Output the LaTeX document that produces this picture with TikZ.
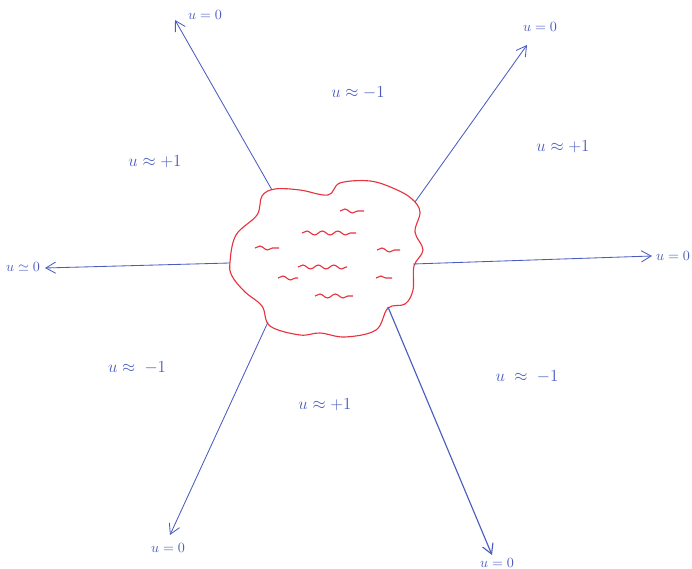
\documentclass[tikz,border=0pt]{standalone}
\usepackage{amsmath}
\usepackage{amssymb}
\definecolor{rayblue}{HTML}{4A5CC0}
\definecolor{blobred}{HTML}{E8323F}
\usetikzlibrary{positioning,arrows.meta,decorations.pathmorphing}

\begin{document}
\begin{tikzpicture}[
  x=0.025cm, y=-0.025cm,
  ray/.style={-{Straight Barb[length=7pt,width=8pt]}, rayblue, semithick},
  blob/.style={draw=blobred, thick},
  wave/.style={blobred, thick, decorate,
               decoration={snake, amplitude=1.4pt, segment length=11pt}},
  endlabel/.style={rayblue, font=\normalsize},
  region/.style={rayblue, font=\large}
]
  \useasboundingbox (0,0) rectangle (692,569);

  % the blob
  \draw[blob] plot[smooth cycle, tension=0.6] coordinates {
    (230,262) (236,235) (257,215) (262,196) (275,189) (300,190) (328,195)
    (340,183) (370,181) (395,189) (412,199) (420,212) (415,232) (423,250)
    (414,266) (413,290) (405,304) (388,308) (376,330) (345,337) (320,333)
    (300,335) (270,326) (262,306) (245,292) (232,276)};

  % ripples inside
  \draw[wave] (340,211) -- (364,211);
  \draw[wave] (302,233) -- (356,233);
  \draw[wave] (255,248) -- (279,248);
  \draw[wave] (377,250) -- (400,250);
  \draw[wave] (298,267) -- (347,267);
  \draw[wave] (278,278) -- (298,278);
  \draw[wave] (376,278) -- (392,278);
  \draw[wave] (315,296) -- (353,296);

  % attachment points on the blob
  \coordinate (nw) at (272,190);
  \coordinate (ne) at (415,202);
  \coordinate (w)  at (230,263);
  \coordinate (e)  at (413,264);
  \coordinate (sw) at (268,322);
  \coordinate (se) at (388,307);

  % arrow tips
  \coordinate (tipnw) at (175,20);
  \coordinate (tipne) at (527,45);
  \coordinate (tipw)  at (45,268);
  \coordinate (tipe)  at (652,256);
  \coordinate (tipsw) at (170,535);
  \coordinate (tipse) at (492,555);

  % rays
  \draw[ray] (nw) -- (tipnw);
  \draw[ray] (ne) -- (tipne);
  \draw[ray] (w)  -- (tipw);
  \draw[ray] (e)  -- (tipe);
  \draw[ray] (sw) -- (tipsw);
  \draw[ray, thick] (se) -- (tipse);

  % labels at the ends
  \node[endlabel] (lnw) at (205,15)  {$u=0$};
  \node[endlabel] (lne) at (540,27)  {$u=0$};
  \node[endlabel] (lw)  at (23,267)  {$u\simeq 0$};
  \node[endlabel] (le)  at (673,256) {$u=0$};
  \node[endlabel] (lsw) at (168,548) {$u=0$};
  \node[endlabel] (lse) at (497,563) {$u=0$};

  % sectors
  \node[region] (rn)  at (358,93)  {$u \approx -1$};
  \node[region] (rnw) at (155,162) {$u \approx +1$};
  \node[region] (rne) at (563,147) {$u \approx +1$};
  \node[region] (rsw) at (137,368) {$u \approx\; -1$};
  \node[region] (rs)  at (325,405) {$u \approx +1$};
  \node[region] (rse) at (527,377) {$u \;\approx\; -1$};
\end{tikzpicture}
\end{document}
